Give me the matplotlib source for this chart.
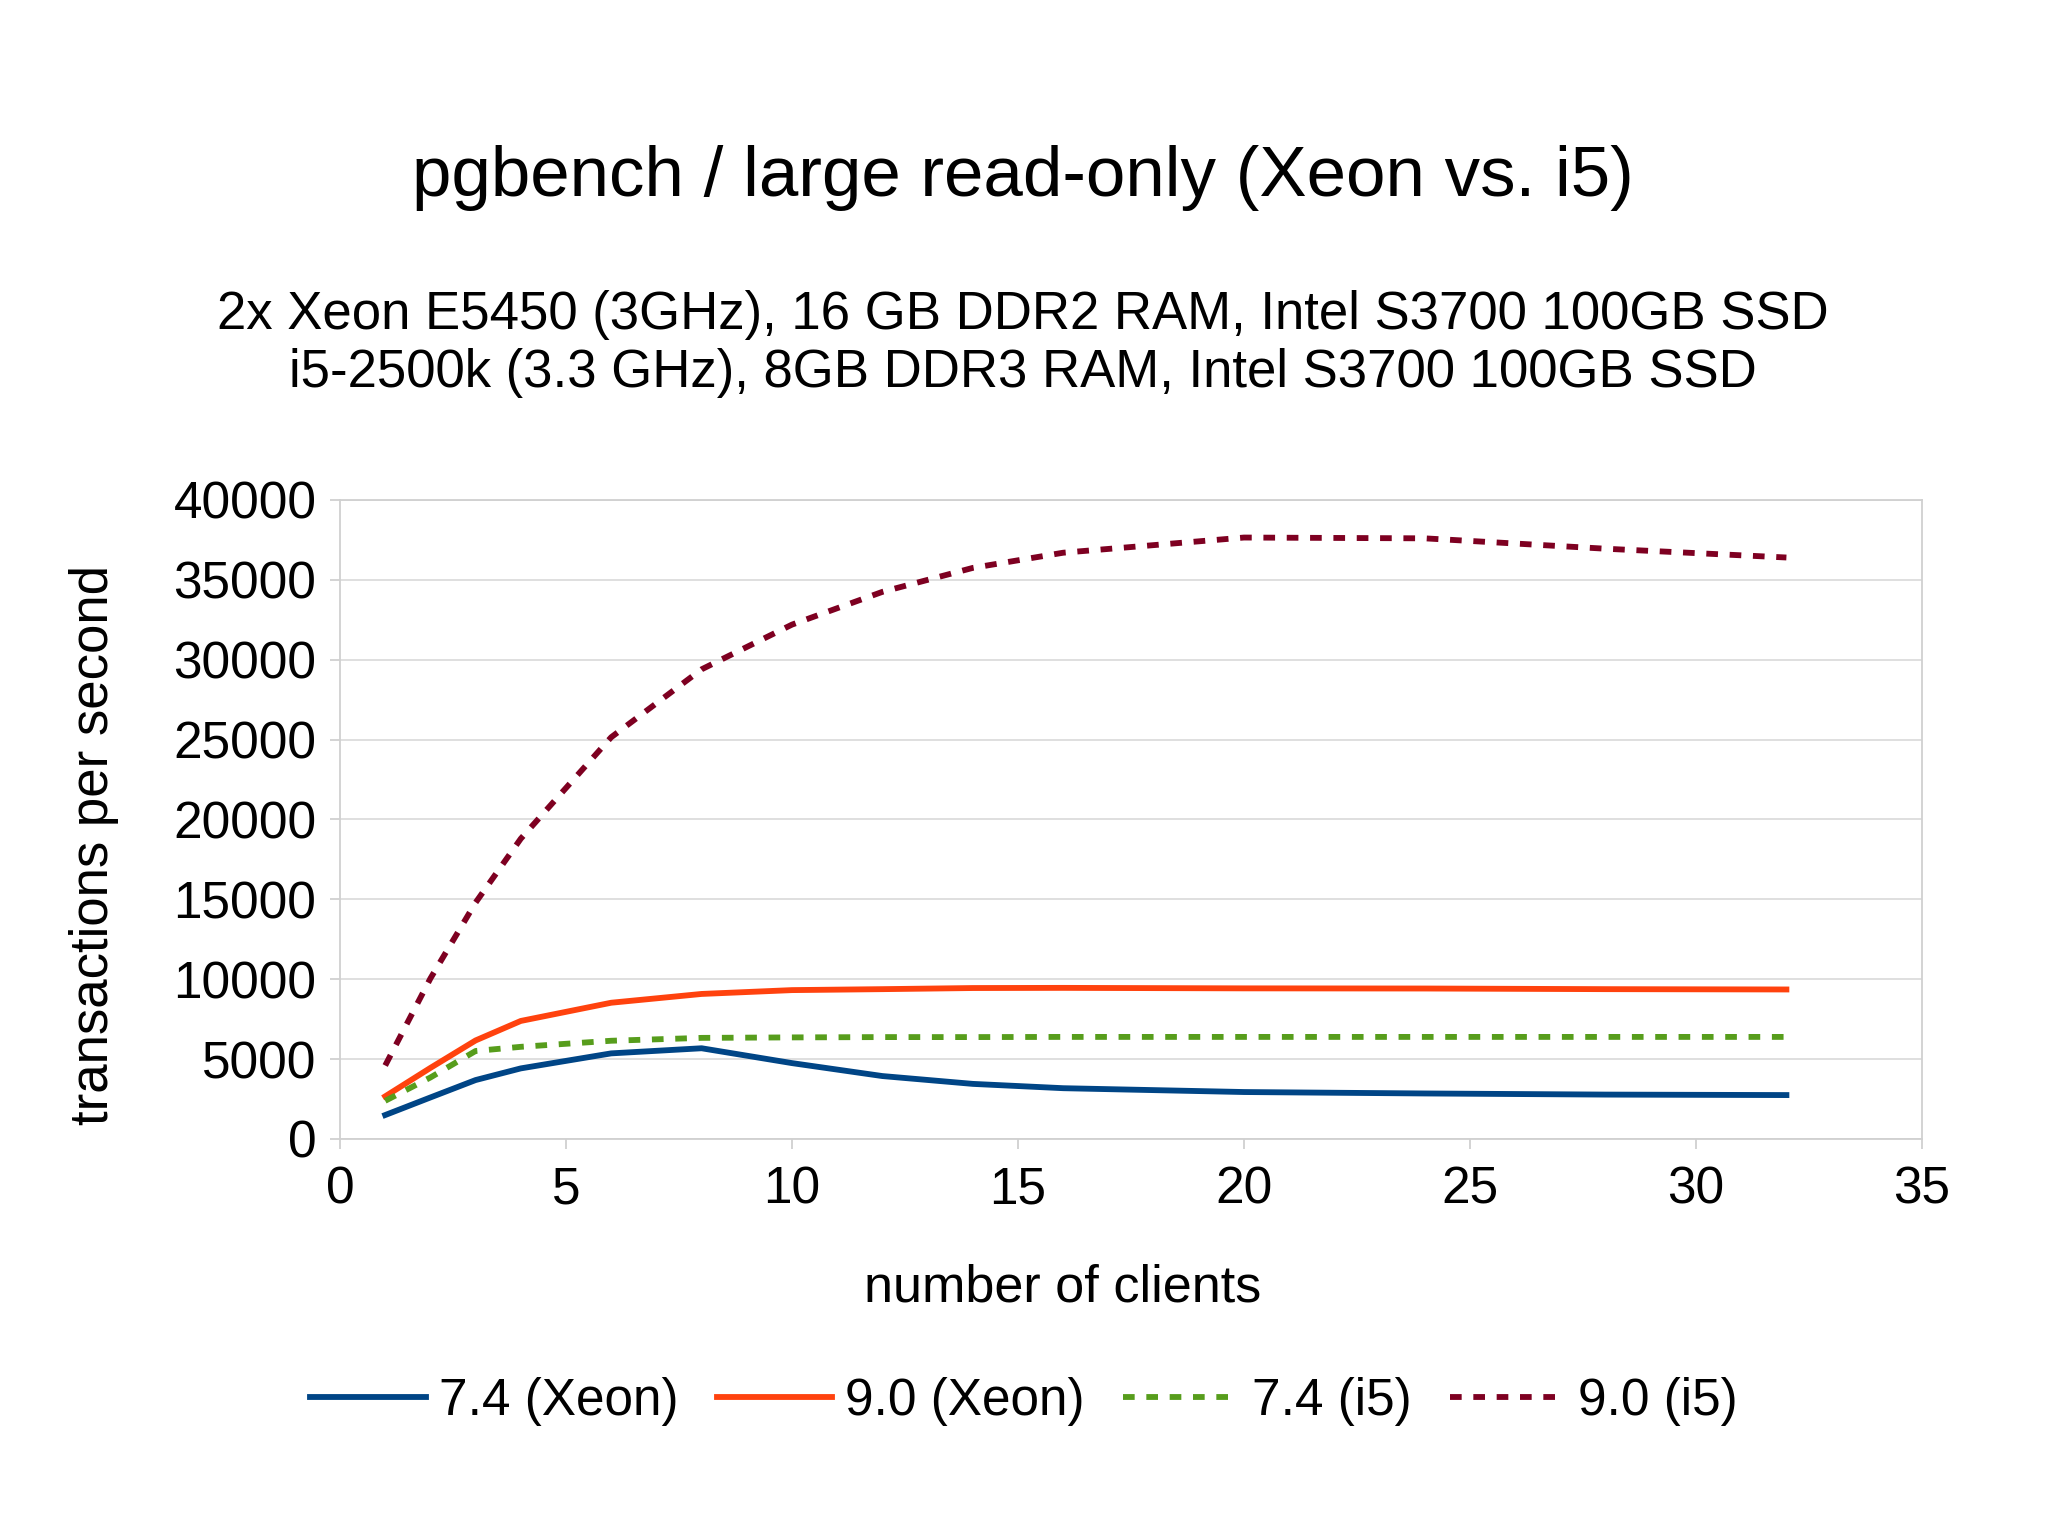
import matplotlib
matplotlib.use("Agg")
import matplotlib.pyplot as plt

plt.rcParams['font.family'] = ['Liberation Sans', 'DejaVu Sans']

clients = [1, 2, 3, 4, 6, 8, 10, 12, 14, 16, 20, 24, 28, 32]
xeon_74 = [1500, 2600, 3690, 4420, 5360, 5680, 4750, 3940, 3450, 3180, 2940, 2850, 2780, 2750]
xeon_90 = [2670, 4450, 6170, 7390, 8530, 9080, 9320, 9380, 9450, 9460, 9430, 9420, 9380, 9360]
i5_74 = [2390, 3850, 5510, 5770, 6150, 6330, 6360, 6380, 6380, 6390, 6390, 6390, 6390, 6390]
i5_90 = [4600, 10050, 14800, 18800, 25150, 29400, 32200, 34250, 35750, 36700, 37650, 37600, 36950, 36400]

series_labels = ['7.4 (Xeon)', '9.0 (Xeon)', '7.4 (i5)', '9.0 (i5)']
colors = ['#004586', '#ff420e', '#579d1c', '#7e0021']

title = 'pgbench / large read-only (Xeon vs. i5)'
subtitle1 = '2x Xeon E5450 (3GHz), 16 GB DDR2 RAM, Intel S3700 100GB SSD'
subtitle2 = 'i5-2500k (3.3 GHz), 8GB DDR3 RAM, Intel S3700 100GB SSD'
xlabel = 'number of clients'
ylabel = 'transactions per second'

W, H = 2048, 1535
fig = plt.figure(figsize=(W / 100, H / 100), dpi=100)
ax = fig.add_axes([340 / W, 1 - 1139 / H, (1922 - 340) / W, (1139 - 500) / H])

lw = 4.2
ax.plot(clients, xeon_74, color=colors[0], lw=lw, label=series_labels[0], solid_joinstyle='round')
ax.plot(clients, xeon_90, color=colors[1], lw=lw, label=series_labels[1], solid_joinstyle='round')
ax.plot(clients, i5_74, color=colors[2], lw=lw, label=series_labels[2], dashes=(2, 2), dash_capstyle='butt')
ax.plot(clients, i5_90, color=colors[3], lw=lw, label=series_labels[3], dashes=(2, 2), dash_capstyle='butt')

ax.set_xlim(0, 35)
ax.set_ylim(0, 40000)
ax.set_xticks(range(0, 36, 5))
ax.set_yticks(range(0, 40001, 5000))
ax.grid(axis='y', color='#dcdcdc', lw=1.3)
ax.set_axisbelow(True)
for s in ax.spines.values():
    s.set_color('#d0d0d0')
    s.set_linewidth(1.3)
ax.tick_params(axis='both', colors='#d0d0d0', labelcolor='black', labelsize=37,
               length=7, width=1.3, direction='out')
ax.tick_params(axis='y', pad=10)
ax.tick_params(axis='x', pad=12)

fig.text(1023 / W, 1 - 178 / H, title, ha='center', va='center', fontsize=51)
fig.text(1023 / W, 1 - 315 / H, subtitle1, ha='center', va='center', fontsize=38)
fig.text(1023 / W, 1 - 373 / H, subtitle2, ha='center', va='center', fontsize=38)
fig.text(1063 / W, 1 - 1288 / H, xlabel, ha='center', va='center', fontsize=37.5)
fig.text(94 / W, 1 - 845 / H, ylabel, ha='center', va='center', rotation=90, fontsize=38)

fig.legend(loc='center', bbox_to_anchor=(0.5, 1 - 1401 / H), ncol=4, frameon=False,
           fontsize=37, handlelength=2.25, handletextpad=0.25, columnspacing=0.75)

fig.savefig('out.png', dpi=100, facecolor='white')
